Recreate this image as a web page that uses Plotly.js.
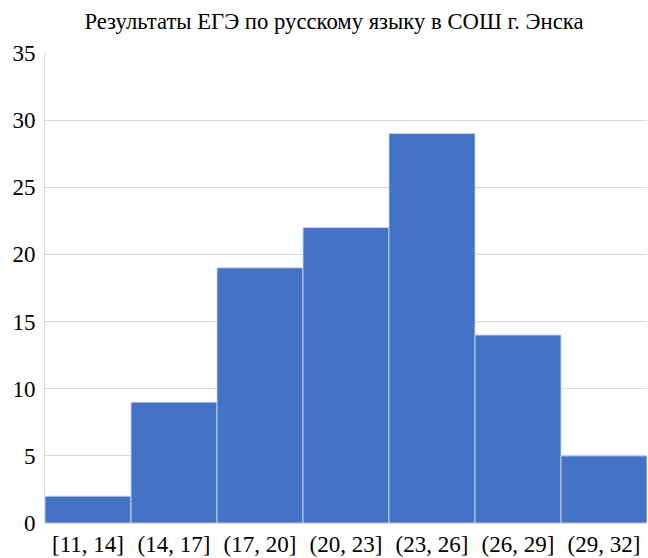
<!DOCTYPE html>
<html>
<head>
<meta charset="utf-8">
<script src="https://cdn.plot.ly/plotly-3.0.1.min.js"></script>
<style>html,body{margin:0;padding:0;background:#fff;}#chart{width:648px;height:558px;}</style>
</head>
<body>
<div id="chart"></div>
<script>
const categories = ["[11, 14]", "(14, 17]", "(17, 20]", "(20, 23]", "(23, 26]", "(26, 29]", "(29, 32]"];
const counts = [2, 9, 19, 22, 29, 14, 5];
const yTicks = [0, 5, 10, 15, 20, 25, 30, 35];
const chartTitle = "Результаты ЕГЭ по русскому языку в СОШ г. Энска";

const serif = "Liberation Serif";
Plotly.newPlot("chart", [{
  type: "bar",
  x: categories,
  y: counts,
  marker: {color: "#4472C4", line: {color: "rgba(200,215,240,0.9)", width: 1}},
  hoverinfo: "x+y"
}], {
  width: 648, height: 558,
  margin: {l: 45, r: 1, t: 53, b: 35},
  bargap: 0,
  paper_bgcolor: "#fff", plot_bgcolor: "#fff",
  title: {text: chartTitle, font: {family: serif, size: 22.7, color: "#000"}, x: 0.5154, xanchor: "center", y: 0.962, yanchor: "middle"},
  xaxis: {
    type: "category",
    tickfont: {family: serif, size: 23, color: "#000"},
    tickangle: 0,
    showgrid: false, ticks: "", showline: true, linecolor: "#d9d9d9", linewidth: 1
  },
  yaxis: {
    range: [0, 35], tickvals: yTicks, ticktext: yTicks.map(String),
    tickfont: {family: serif, size: 23, color: "#000"},
    showgrid: true, gridcolor: "#d9d9d9", gridwidth: 1, zeroline: false,
    showline: true, linecolor: "#d9d9d9", ticks: "", ticklen: 0,
    ticklabelstandoff: 4
  },
  showlegend: false
}, {displayModeBar: false, staticPlot: true});
</script>
</body>
</html>
